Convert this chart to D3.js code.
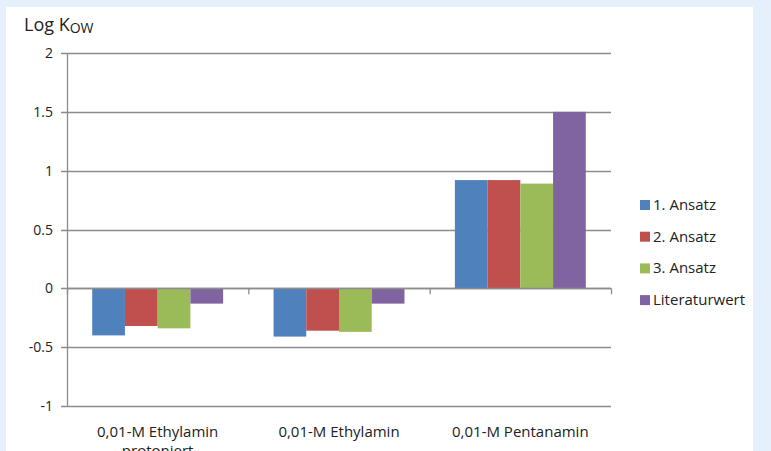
<!DOCTYPE html>
<html>
<head>
<meta charset="utf-8">
<script src="https://cdn.jsdelivr.net/npm/d3@7"></script>
<style>
  body { margin: 0; background: #e5f0fc; }
  svg { display: block; }
</style>
</head>
<body>
<svg id="chart"></svg>
<script>
var categories = ["0,01-M Ethylamin protoniert", "0,01-M Ethylamin", "0,01-M Pentanamin"];
var series = ["1. Ansatz", "2. Ansatz", "3. Ansatz", "Literaturwert"];
var ansatz1 = [-0.40, -0.41, 0.92];
var ansatz2 = [-0.32, -0.36, 0.92];
var ansatz3 = [-0.34, -0.37, 0.89];
var literatur = [-0.13, -0.13, 1.50];
var yTicks = [2, 1.5, 1, 0.5, 0, -0.5, -1];
var colors = ["#4f81bd", "#c0504d", "#9bbb59", "#8064a2"];

var values = [ansatz1, ansatz2, ansatz3, literatur];

var width = 771, height = 451;
var svg = d3.select("#chart").attr("width", width).attr("height", height);

// white chart panel
svg.append("rect").attr("x", 6).attr("y", 7).attr("width", 747).attr("height", 450)
    .attr("fill", "white");

var mLeft = 67, mRight = 611, mTop = 53, mBottom = 406;
var fontFam = "'Open Sans', sans-serif";

var y = d3.scaleLinear().domain([-1, 2]).range([mBottom, mTop]);
var x = d3.scaleBand().domain(categories).range([mLeft, mRight]).paddingInner(0).paddingOuter(0);
var xs = d3.scaleBand().domain(series).range([0, x.bandwidth()]).paddingInner(0).paddingOuter(0.77);

// gridlines
svg.append("g").selectAll("line").data(yTicks).enter().append("line")
    .attr("x1", mLeft - 6).attr("x2", mRight)
    .attr("y1", d => Math.round(y(d)) + 0.5).attr("y2", d => Math.round(y(d)) + 0.5)
    .attr("stroke", "#8c8c8c").attr("stroke-width", 1.3);

// tick labels
svg.append("g").selectAll("text").data(yTicks).enter().append("text")
    .attr("x", 53).attr("y", d => y(d) + 5)
    .attr("text-anchor", "end")
    .attr("font-family", fontFam).attr("font-size", 14).attr("fill", "#222")
    .text(d => d);

// bars
var groups = svg.append("g").selectAll("g").data(categories).enter().append("g")
    .attr("transform", d => "translate(" + x(d) + ",0)");

groups.selectAll("rect")
    .data((c, ci) => series.map((s, si) => ({s: s, si: si, v: values[si][ci]})))
    .enter().append("rect")
    .attr("x", d => xs(d.s))
    .attr("width", xs.bandwidth())
    .attr("y", d => y(Math.max(0, d.v)))
    .attr("height", d => Math.abs(y(d.v) - y(0)))
    .attr("fill", d => colors[d.si]);

// y axis line
svg.append("line").attr("x1", mLeft + 0.5).attr("x2", mLeft + 0.5).attr("y1", mTop).attr("y2", mBottom)
    .attr("stroke", "#8c8c8c").attr("stroke-width", 1.3);

// category axis at zero with tick marks
svg.append("line").attr("x1", mLeft).attr("x2", mRight)
    .attr("y1", Math.round(y(0)) + 0.5).attr("y2", Math.round(y(0)) + 0.5)
    .attr("stroke", "#8c8c8c").attr("stroke-width", 1.3);
var bounds = categories.map(c => x(c)).concat([mRight]);
svg.append("g").selectAll("line").data(bounds).enter().append("line")
    .attr("x1", d => d + 0.5).attr("x2", d => d + 0.5)
    .attr("y1", y(0)).attr("y2", y(0) + 6)
    .attr("stroke", "#8c8c8c").attr("stroke-width", 1.3);

// category labels
var catLabels = svg.append("g").selectAll("text").data(categories).enter().append("text")
    .attr("x", d => x(d) + x.bandwidth() / 2)
    .attr("y", 437)
    .attr("text-anchor", "middle")
    .attr("font-family", fontFam).attr("font-size", 15).attr("fill", "#222");
catLabels.each(function(d) {
    var t = d3.select(this);
    var words = d.split(" ");
    if (words.length > 2) {
        t.append("tspan").attr("x", x(d) + x.bandwidth() / 2).text(words.slice(0, 2).join(" "));
        t.append("tspan").attr("x", x(d) + x.bandwidth() / 2).attr("dy", 19).text(words.slice(2).join(" "));
    } else {
        t.text(d);
    }
});

// y title
var title = svg.append("text").attr("x", 24).attr("y", 31)
    .attr("font-family", fontFam).attr("font-size", 18).attr("fill", "#222");
title.append("tspan").text("Log K");
title.append("tspan").attr("font-size", 14).attr("dy", 2).text("OW");

// legend
var legend = svg.append("g").selectAll("g").data(series).enter().append("g")
    .attr("transform", (d, i) => "translate(640," + (205 + i * 31.7) + ")");
legend.append("rect").attr("x", 0).attr("y", -5).attr("width", 10).attr("height", 10)
    .attr("fill", (d, i) => colors[i]);
legend.append("text").attr("x", 13).attr("y", 5)
    .attr("font-family", fontFam).attr("font-size", 15).attr("fill", "#222")
    .text(d => d);
</script>
</body>
</html>
